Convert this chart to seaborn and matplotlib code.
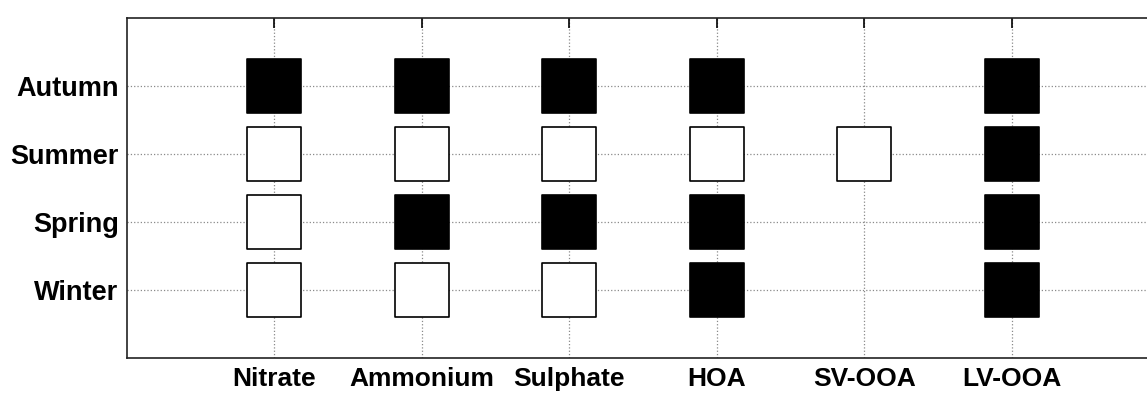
import pandas as pd
import matplotlib.pyplot as plt
import seaborn as sns

# categories
species = ['Nitrate', 'Ammonium', 'Sulphate', 'HOA', 'SV-OOA', 'LV-OOA']
seasons = ['Winter', 'Spring', 'Summer', 'Autumn']

# 1 = filled square, 0 = open square, None = nothing (order follows seasons)
nitrate  = [0, 0, 0, 1]
ammonium = [0, 1, 0, 1]
sulphate = [0, 1, 0, 1]
hoa      = [1, 1, 0, 1]
sv_ooa   = [None, None, 0, None]
lv_ooa   = [1, 1, 1, 1]

flags = [nitrate, ammonium, sulphate, hoa, sv_ooa, lv_ooa]

rows = []
for i, name in enumerate(species):
    for j, season in enumerate(seasons):
        v = flags[i][j]
        if v is None:
            continue
        rows.append({'x': i + 1, 'y': j + 1, 'kind': 'filled' if v == 1 else 'open'})
df = pd.DataFrame(rows)

sns.set_style("white")
plt.rcParams['font.family'] = ['Liberation Sans', 'DejaVu Sans']

fig = plt.figure(figsize=(11.47, 3.94), dpi=100)
# right edge of the box runs off the picture, like the original
ax = fig.add_axes([127 / 1147, (394 - 358) / 394, 1032 / 1147, 340 / 394])

sns.scatterplot(data=df, x='x', y='y', hue='kind',
                palette={'filled': 'black', 'open': 'white'},
                marker='s', s=1515, edgecolor='black', linewidth=1.2,
                legend=False, ax=ax, zorder=3)

ax.set_xlim(0, 7)
ax.set_ylim(0, 5)
ax.set_xticks(range(1, len(species) + 1))
ax.set_xticklabels(species, fontsize=19, fontweight='bold', color='black')
ax.set_yticks(range(1, len(seasons) + 1))
ax.set_yticklabels(seasons, fontsize=19.5, fontweight='bold', color='black')
ax.set_xlabel('')
ax.set_ylabel('')

ax.set_axisbelow(True)
ax.grid(True, linestyle=':', color='#8a8a8a', linewidth=0.9)
ax.tick_params(axis='both', direction='in', length=7, width=1.2,
               top=True, right=True, color='black')
ax.tick_params(axis='x', pad=6.5)
ax.tick_params(axis='y', pad=6)
for sp in ax.spines.values():
    sp.set_color('#222222')
    sp.set_linewidth(1.2)

fig.savefig('out.png', dpi=100)
